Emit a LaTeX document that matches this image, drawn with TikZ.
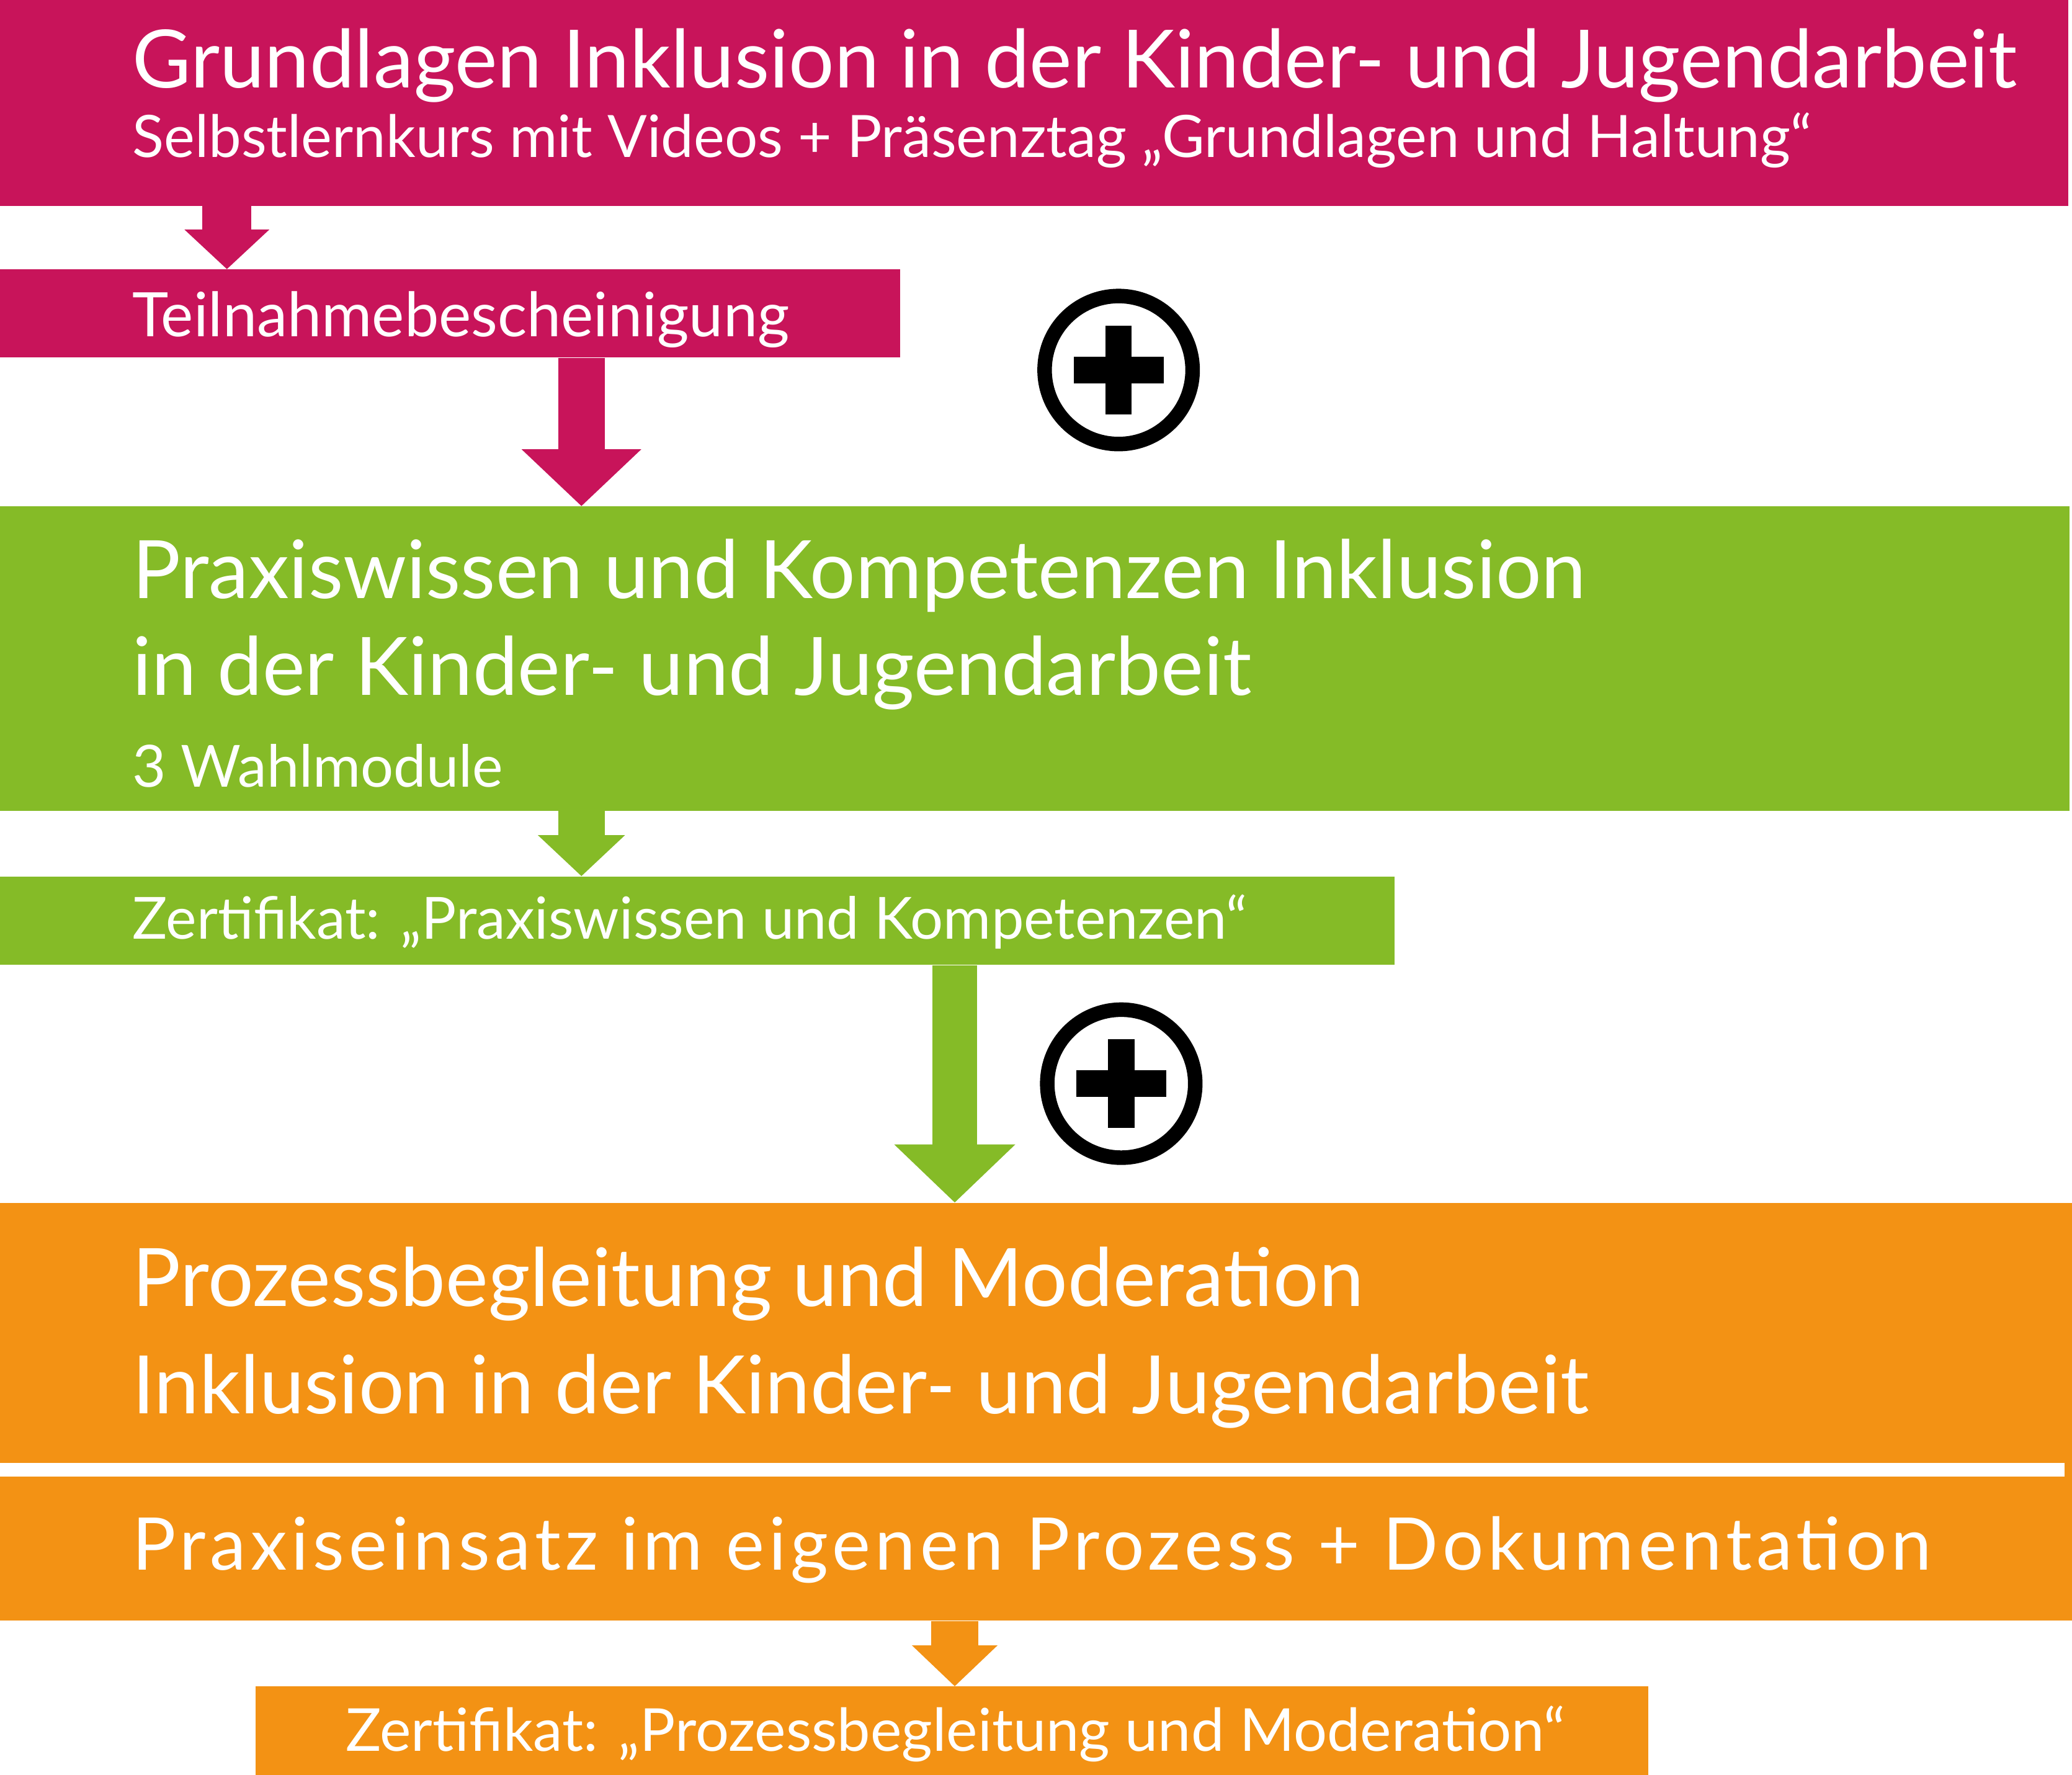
\documentclass[tikz,border=0pt]{standalone}
\usepackage{fontspec}
\setmainfont{Lato}
\usetikzlibrary{arrows.meta}
\definecolor{mag}{RGB}{200,20,90}
\definecolor{grn}{RGB}{133,187,39}
\definecolor{org}{RGB}{243,146,20}
\tikzset{
  box/.style={fill=#1, draw=none, inner sep=0pt, anchor=north west, rectangle},
  big/.style={text=white, inner sep=0pt, anchor=base west, font=\fontsize{61}{73}\selectfont},
  small/.style={text=white, inner sep=0pt, anchor=base west, font=\fontsize{44}{53}\selectfont},
  blockarrow/.style n args={4}{draw=#1, line width=#2, line cap=butt,
     -{Triangle[width=#3,length=#4]}},
  pluscirc/.style={circle, draw=black, line width=11pt, minimum size=112pt, inner sep=0pt, fill=white},
}
\begin{document}
\begin{tikzpicture}[x=1pt,y=-1pt]
\useasboundingbox (0,0) rectangle (1568,1343);
\fill[white] (0,0) rectangle (1568,1343);
% boxes
\node[box=mag, minimum width=1565pt, minimum height=155.5pt] (top) at (0,0) {};
\node[box=mag, minimum width=681pt, minimum height=66.6pt] (teil) at (0,203.7) {};
\node[box=grn, minimum width=1566pt, minimum height=230.4pt] (green) at (0,383) {};
\node[box=grn, minimum width=1055pt, minimum height=67pt] (zert1) at (0,663) {};
\node[box=org, minimum width=1568pt, minimum height=196.6pt] (orange1) at (0,910) {};
\node[box=org, minimum width=1568pt, minimum height=109pt] (orange2) at (0,1117.2) {};
\fill[org] (orange1.south east) ++(-6,-0.5) rectangle (orange2.north east);
\node[box=org, minimum width=1054pt, minimum height=67pt] (zert2) at (193,1276) {};
% texts
\node[big, font=\fontsize{60.9}{73}\selectfont] (t1) at (100,66.2) {Grundlagen Inklusion in der Kinder- und Jugendarbeit};
\node[small, font=\fontsize{44.2}{53}\selectfont] (t2) at (100,119) {Selbstlernkurs mit Videos + Präsenztag „Grundlagen und Haltung“};
\node[small, font=\fontsize{46.4}{55}\selectfont] (t3) at (100,254.7) {Teilnahmebescheinigung};
\node[big] (t4) at (100,453) {Praxiswissen und Kompetenzen Inklusion};
\node[big] (t5) at (100,526) {in der Kinder- und Jugendarbeit};
\node[small] (t6) at (100,595.6) {3 Wahlmodule};
\node[small] (t7) at (100,710.5) {Zertifikat: „Praxiswissen und Kompetenzen“};
\node[big] (t8) at (100,988.3) {Prozessbegleitung und Moderation};
\node[big] (t9) at (100,1069.5) {Inklusion in der Kinder- und Jugendarbeit};
\node[big, font=\fontsize{55}{66}\selectfont\addfontfeatures{LetterSpace=6.1}] (t10) at (100,1188) {Praxiseinsatz im eigenen Prozess + Dokumentation};
\node[small, anchor=base, font=\fontsize{44.8}{54}\selectfont] (t11) at (723,1325) {Zertifikat: „Prozessbegleitung und Moderation“};
% arrows
\draw[blockarrow={mag}{37pt}{62.5pt}{30pt}] ([xshift=171.7pt]top.south west) -- ([xshift=171.7pt]teil.north west);
\draw[blockarrow={mag}{35pt}{88pt}{43pt}] ([xshift=440pt]teil.south west) -- ([xshift=440pt]green.north west);
\draw[blockarrow={grn}{35pt}{64pt}{31pt}] ([xshift=440pt]green.south west) -- ([xshift=440pt]zert1.north west);
\draw[blockarrow={grn}{34pt}{89pt}{44pt}] ([xshift=722.5pt]zert1.south west) -- ([xshift=722.5pt]orange1.north west);
\draw[blockarrow={org}{36pt}{63pt}{31pt}] ([xshift=722.5pt]orange2.south west) -- ([xshift=529.5pt]zert2.north west);
% plus signs
\node[pluscirc] (plus1) at (846.5,280) {};
\node[pluscirc] (plus2) at (848.5,820) {};
\foreach \p in {plus1,plus2}{
  \fill[black] ([shift={(-10pt,-33.5pt)}]\p.center) rectangle ([shift={(10pt,33.5pt)}]\p.center);
  \fill[black] ([shift={(-34pt,-10pt)}]\p.center) rectangle ([shift={(34pt,10pt)}]\p.center);
}
\end{tikzpicture}
\end{document}
